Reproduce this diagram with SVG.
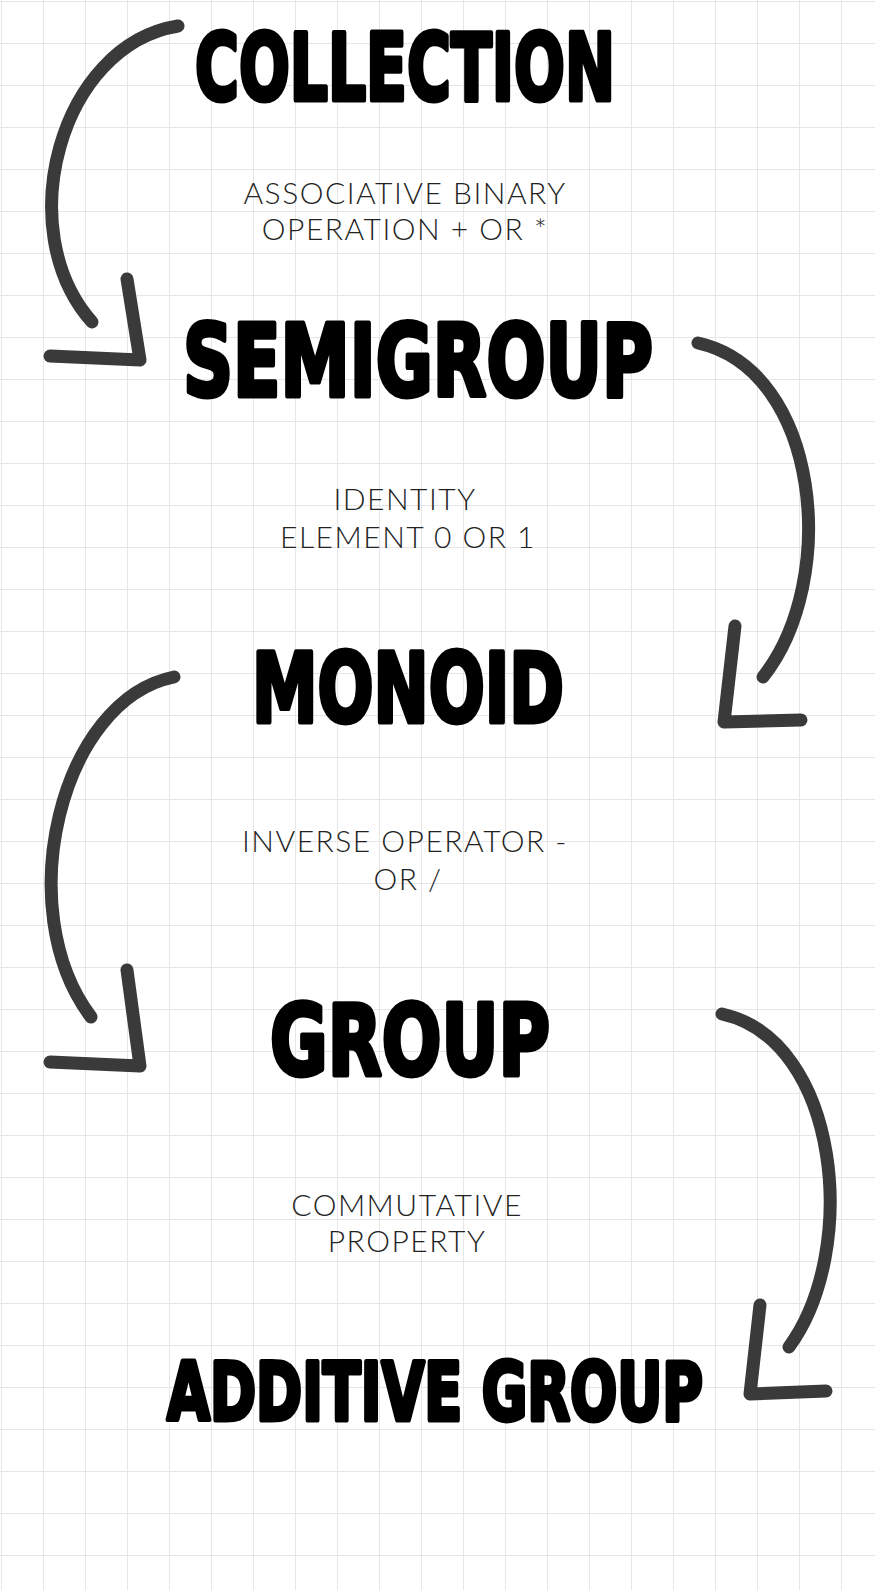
<svg xmlns="http://www.w3.org/2000/svg" width="875" height="1590" viewBox="0 0 875 1590">
<defs>
<pattern id="grid" width="42" height="42" patternUnits="userSpaceOnUse" x="1" y="1">
<path d="M0 0H42M0 0V42" fill="none" stroke="#e6e6e6" stroke-width="2"/>
</pattern>
<style>
.t{font-family:"DejaVu Sans",sans-serif;font-weight:900;fill:#000;stroke:#000;stroke-width:5;stroke-linejoin:round;text-anchor:middle}
.s{font-family:"Lato","Open Sans",sans-serif;font-weight:300;font-size:30px;letter-spacing:1.5px;fill:#222;text-anchor:middle}
.a{fill:none;stroke:#3a3a3a;stroke-width:13;stroke-linecap:round;stroke-linejoin:round}
</style>
</defs>
<rect width="875" height="1590" fill="#fff"/>
<rect width="875" height="1590" fill="url(#grid)"/>
<g id="collection"><text class="t" x="405" y="100" font-size="92" textLength="420" lengthAdjust="spacingAndGlyphs">COLLECTION</text></g>
<g id="label1"><text class="s" x="405" y="204">ASSOCIATIVE BINARY</text><text class="s" x="405" y="240">OPERATION + OR *</text></g>
<g id="semigroup"><text class="t" x="418" y="396" font-size="100" textLength="470" lengthAdjust="spacingAndGlyphs">SEMIGROUP</text></g>
<g id="label2"><text class="s" x="405" y="510">IDENTITY</text><text class="s" x="408" y="548">ELEMENT 0 OR 1</text></g>
<g id="monoid"><text class="t" x="408" y="722" font-size="96" textLength="312" lengthAdjust="spacingAndGlyphs">MONOID</text></g>
<g id="label3"><text class="s" x="405" y="852">INVERSE OPERATOR -</text><text class="s" x="408" y="890">OR /</text></g>
<g id="group"><text class="t" x="410" y="1075" font-size="98" textLength="280" lengthAdjust="spacingAndGlyphs">GROUP</text></g>
<g id="label4"><text class="s" x="407" y="1216">COMMUTATIVE</text><text class="s" x="407" y="1252">PROPERTY</text></g>
<g id="additive"><text class="t" x="435" y="1420" font-size="80" textLength="536" lengthAdjust="spacingAndGlyphs">ADDITIVE GROUP</text></g>
<g id="connectors">
<path class="a" d="M178 26 C60 45 10 230 92 322"/>
<path class="a" d="M127 279 L140 360 L50 356"/>
<path class="a" d="M698 343 C820 370 840 580 763 677"/>
<path class="a" d="M735 626 L724 722 L801 720"/>
<path class="a" d="M174 677 C60 700 10 910 91 1017"/>
<path class="a" d="M127 970 L140 1066 L50 1062"/>
<path class="a" d="M722 1014 C840 1040 860 1250 789 1347"/>
<path class="a" d="M760 1305 L750 1394 L826 1391"/>
</g>
</svg>
